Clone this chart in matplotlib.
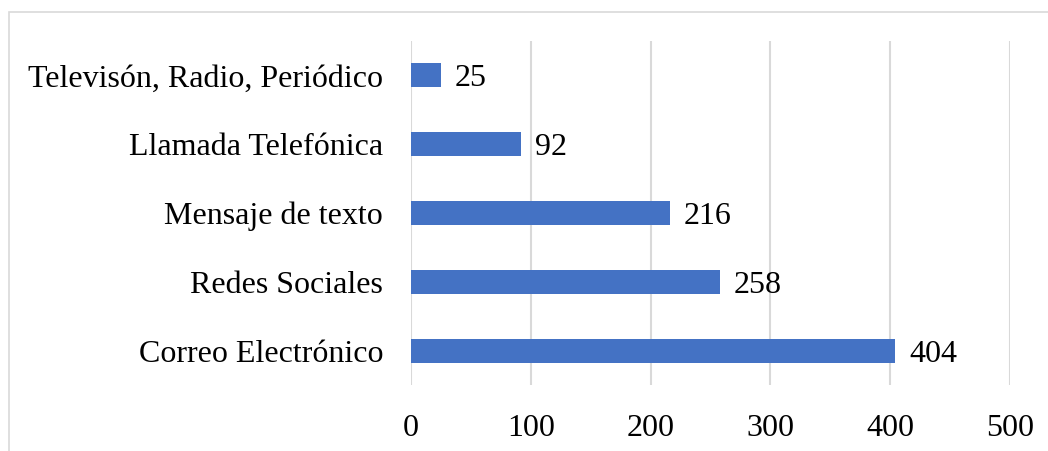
import matplotlib.pyplot as plt
import matplotlib.patches as patches

categories = ["Correo Electrónico", "Redes Sociales", "Mensaje de texto",
              "Llamada Telefónica", "Televisón, Radio, Periódico"]
values = [404, 258, 216, 92, 25]
xticks = [0, 100, 200, 300, 400, 500]

plt.rcParams['font.family'] = ['Liberation Serif', 'DejaVu Serif']
fs = 23

fig = plt.figure(figsize=(10.48, 4.51), dpi=100)
ax = fig.add_axes([411/1048, 1 - 385/451, 599/1048, 344/451])

# chart border (light grey frame, cut at right/bottom)
frame = patches.Rectangle((9/1048, -0.1), 1.1, 1 - 12/451 + 0.1,
                          transform=fig.transFigure, fill=False,
                          edgecolor='#d9d9d9', linewidth=1.2)
fig.patches.append(frame)

pos = range(len(categories))
bars = ax.barh(pos, values, height=0.35, color='#4472C4', zorder=3)

for p, v in zip(pos, values):
    ax.annotate(str(v), (v, p), xytext=(10, 0), textcoords='offset points',
                va='center_baseline', ha='left', fontsize=fs)

ax.set_xlim(0, 500)
ax.set_ylim(-0.5, len(categories) - 0.5)
ax.set_xticks(xticks)
ax.set_yticks(list(pos))
ax.set_yticklabels(categories, va='center_baseline')
ax.tick_params(axis='both', length=0, labelsize=fs)
ax.tick_params(axis='x', pad=21)
ax.tick_params(axis='y', pad=20)
ax.grid(axis='x', color='#d9d9d9', linewidth=1.5, zorder=0)
for s in ax.spines.values():
    s.set_visible(False)

fig.savefig("out.png", dpi=100)
